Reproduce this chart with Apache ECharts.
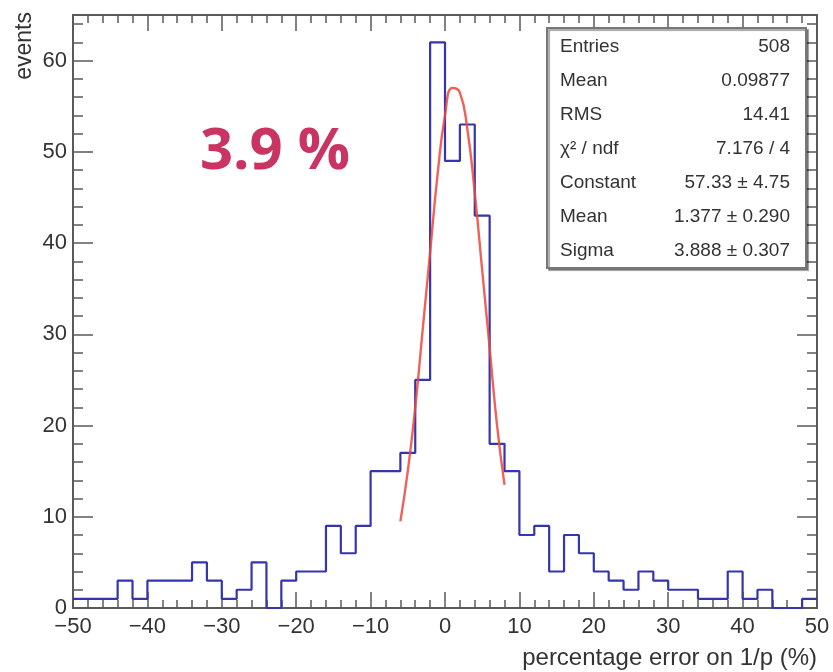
<!DOCTYPE html>
<html>
<head>
<meta charset="utf-8">
<script src="https://cdn.jsdelivr.net/npm/echarts@6/dist/echarts.min.js"></script>
<style>html,body{margin:0;padding:0;background:#fff}#c{width:833px;height:672px}</style>
</head>
<body>
<div id="c"></div>
<script>
// ---- data ----
const binStarts = [-50,-48,-46,-44,-42,-40,-38,-36,-34,-32,-30,-28,-26,-24,-22,-20,-18,-16,-14,-12,-10,-8,-6,-4,-2,0,2,4,6,8,10,12,14,16,18,20,22,24,26,28,30,32,34,36,38,40,42,44,46,48];
const counts    = [1,1,1,3,1,3,3,3,5,3,1,2,5,0,3,4,4,9,6,9,15,15,17,25,62,49,53,43,18,15,8,9,4,8,6,4,3,2,4,3,2,2,1,1,4,1,2,0,0,1];
const binWidth = 2;
const fitX = [-6,-5,-4,-3,-2,-1,0,1,2,3,4,5,6,7,8];
const fitY = [9.5,15,22,30.5,39,47.5,54,57,56.5,52.5,45.5,37,28.5,20,13.5];
const statLabels = ['Entries','Mean','RMS','\u03c7\u00b2 / ndf','Constant','Mean','Sigma'];
const statValues = ['508','0.09877','14.41','7.176 / 4','57.33 \u00b1 4.75','1.377 \u00b1 0.290','3.888 \u00b1 0.307'];
const annotation = '3.9 %';
const xTitle = 'percentage error on 1/p (%)';
const yTitle = 'events';

// ---- build ----
const histData = binStarts.map((x, i) => [x, counts[i]]);
histData.push([binStarts[binStarts.length - 1] + binWidth, counts[counts.length - 1]]);
const fitData = fitX.map((x, i) => [x, fitY[i]]);

const axisColor = '#5a5a5a';
const fam = '"Liberation Sans", Arial, Helvetica, sans-serif';
const minus = v => String(v).replace('-', '\u2212');

function xAx(pos, showLabel) {
  return {
    type: 'value', min: -50, max: 50, interval: 10, position: pos,
    axisLine: {show: true, onZero: false, lineStyle: {color: axisColor, width: 2}},
    axisTick: {show: true, inside: true, length: 16, lineStyle: {color: axisColor, width: 1.5}},
    minorTick: {show: true, splitNumber: 5, length: 8, lineStyle: {color: axisColor, width: 1.5}},
    axisLabel: {show: showLabel, margin: 8, fontSize: 22, color: '#333', fontFamily: fam, formatter: minus},
    splitLine: {show: false}, minorSplitLine: {show: false}
  };
}
function yAx(pos, interval, len, showLabel) {
  return {
    type: 'value', min: 0, max: 65, interval: interval, position: pos,
    axisLine: {show: true, onZero: false, lineStyle: {color: axisColor, width: 2}},
    axisTick: {show: true, inside: true, length: len, lineStyle: {color: axisColor, width: 1.5}},
    axisLabel: {show: showLabel, margin: 6, fontSize: 22, color: '#333', fontFamily: fam, showMaxLabel: false},
    splitLine: {show: false}
  };
}

const rowY = [47, 81, 115, 149, 183, 217, 251];
const graphics = [
  {type: 'rect', z: 100, shape: {x: 547, y: 28, width: 259, height: 240},
   style: {fill: '#fff', stroke: '#777', lineWidth: 2, shadowOffsetX: 2, shadowOffsetY: 2, shadowBlur: 1, shadowColor: 'rgba(0,0,0,0.35)'}},
  {type: 'text', z: 50, x: 275, y: 152,
   style: {text: annotation, fill: '#c93462', font: 'bold 58px "Open Sans", sans-serif', textAlign: 'center', textVerticalAlign: 'middle'}},
  {type: 'text', z: 50, x: 817, y: 658,
   style: {text: xTitle, fill: '#333', font: '24px ' + fam, textAlign: 'right', textVerticalAlign: 'middle'}},
  {type: 'text', z: 50, x: 25, y: 12, rotation: Math.PI / 2,
   style: {text: yTitle, fill: '#333', font: '23px ' + fam, textAlign: 'right', textVerticalAlign: 'middle'}}
];
statLabels.forEach((t, i) => {
  graphics.push({type: 'text', z: 101, x: 560, y: rowY[i],
    style: {text: t, fill: '#333', font: '19px ' + fam, textAlign: 'left', textVerticalAlign: 'middle'}});
  graphics.push({type: 'text', z: 101, x: 790, y: rowY[i],
    style: {text: statValues[i], fill: '#333', font: '19px ' + fam, textAlign: 'right', textVerticalAlign: 'middle'}});
});

const chart = echarts.init(document.getElementById('c'), null, {renderer: 'canvas'});
chart.setOption({
  animation: false,
  backgroundColor: '#fff',
  grid: {left: 73, right: 16, top: 15, bottom: 64, containLabel: false},
  xAxis: [xAx('bottom', true), xAx('top', false)],
  yAxis: [yAx('left', 10, 20, true), yAx('left', 2, 10, false), yAx('right', 10, 20, false), yAx('right', 2, 10, false)],
  series: [
    {type: 'line', step: 'end', data: histData, symbol: 'none', xAxisIndex: 0, yAxisIndex: 0,
     lineStyle: {color: '#3535ad', width: 2.2}, z: 3},
    {type: 'line', smooth: true, data: fitData, symbol: 'none', xAxisIndex: 0, yAxisIndex: 0,
     lineStyle: {color: 'rgba(236,70,60,0.85)', width: 2.4}, z: 4}
  ],
  graphic: graphics
});
</script>
</body>
</html>
